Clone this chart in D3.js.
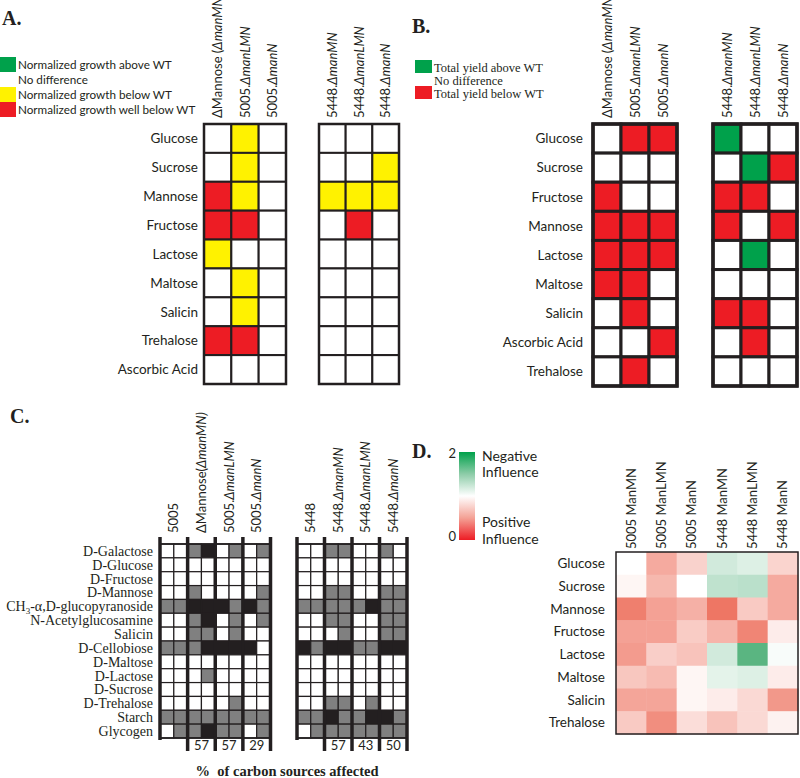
<!DOCTYPE html>
<html><head><meta charset="utf-8">
<script src="https://cdn.jsdelivr.net/npm/d3@7"></script>
<style>body{margin:0;background:#fff} svg{display:block}</style>
</head><body>
<svg id="c" width="800" height="778"></svg>
<script>
// ---------- DATA ----------
// Panel A: 0 no difference, 1 below WT, 2 well below WT, 3 above WT
const aRows = ["Glucose","Sucrose","Mannose","Fructose","Lactose","Maltose","Salicin","Trehalose","Ascorbic Acid"];
const aColsLeft = [["ΔMannose (","ΔmanMN)"],["5005.","ΔmanLMN"],["5005.","ΔmanN"]];
const aColsRight = [["5448.","ΔmanMN"],["5448.","ΔmanLMN"],["5448.","ΔmanN"]];
const aLegend = ["Normalized growth above WT","No difference","Normalized growth below WT","Normalized growth well below WT"];
const aLegendCodes = [3,0,1,2];
const aLeft = [[0,1,0],[0,1,0],[2,1,0],[2,2,0],[1,0,0],[0,1,0],[0,1,0],[2,2,0],[0,0,0]];
const aRight = [[0,0,0],[0,0,1],[1,1,1],[0,2,0],[0,0,0],[0,0,0],[0,0,0],[0,0,0],[0,0,0]];

// Panel B: 0 no difference, 1 below WT, 2 above WT
const bRows = ["Glucose","Sucrose","Fructose","Mannose","Lactose","Maltose","Salicin","Ascorbic Acid","Trehalose"];
const bLegend = ["Total yield above WT","No difference","Total yield below WT"];
const bLegendCodes = [2,0,1];
const bLeft = [[0,1,1],[0,0,0],[1,0,0],[1,1,1],[1,1,1],[1,1,0],[0,1,0],[0,0,1],[0,1,0]];
const bRight = [[2,0,0],[0,2,1],[1,1,0],[1,0,1],[0,2,0],[0,0,0],[1,1,0],[0,1,0],[0,0,0]];

// Panel C: 0 white, 1 grey, 2 black (two replicate columns per strain)
const cRows = ["D-Galactose","D-Glucose","D-Fructose","D-Mannose","CH3-α,D-glucopyranoside","N-Acetylglucosamine","Salicin","D-Cellobiose","D-Maltose","D-Lactose","D-Sucrose","D-Trehalose","Starch","Glycogen"];
const cColsLeft = [["5005",""],["ΔMannose(","ΔmanMN)"],["5005.","ΔmanLMN"],["5005.","ΔmanN"]];
const cColsRight = [["5448",""],["5448.","ΔmanMN"],["5448.","ΔmanLMN"],["5448.","ΔmanN"]];
const cPctLeft = ["","57","57","29"];
const cPctRight = ["","57","43","50"];
const cLeft = [
 [0,0,1,2,0,1,0,1],[0,0,0,0,0,0,0,0],[0,0,0,0,0,0,0,0],[0,0,1,0,0,0,0,1],
 [1,1,2,2,2,1,2,1],[0,0,1,2,0,1,0,1],[0,0,1,1,0,1,0,0],[1,1,1,2,2,2,2,0],
 [0,0,0,0,0,0,0,0],[0,0,0,1,0,0,0,0],[0,0,0,0,0,0,0,0],[0,0,0,0,0,1,0,0],
 [1,1,1,1,1,1,1,1],[0,1,1,2,1,1,0,1]];
const cRight = [
 [0,0,1,1,0,0,1,0],[0,0,0,0,0,0,0,0],[0,0,0,0,0,0,0,0],[0,0,1,1,0,0,1,1],
 [1,1,1,1,1,2,1,1],[0,0,1,1,0,0,1,1],[0,0,0,1,0,0,1,1],[2,1,2,2,1,1,2,2],
 [0,0,0,0,0,0,0,0],[0,0,0,0,0,0,0,0],[0,0,0,0,0,0,0,0],[0,0,1,1,0,1,0,0],
 [1,1,2,1,1,2,2,1],[0,1,1,1,1,1,1,1]];

// Panel D heatmap (0 positive influence .. 2 negative influence)
const dRows = ["Glucose","Sucrose","Mannose","Fructose","Lactose","Maltose","Salicin","Trehalose"];
const dCols = ["5005 ManMN","5005 ManLMN","5005 ManN","5448 ManMN","5448 ManLMN","5448 ManN"];
const dVals = [
 [1.00,0.55,0.76,1.20,1.15,0.77],
 [0.95,0.62,1.00,1.28,1.30,0.55],
 [0.32,0.50,0.58,0.27,0.72,0.55],
 [0.50,0.50,0.73,0.60,0.35,0.90],
 [0.47,0.74,0.68,1.20,1.72,1.03],
 [0.70,0.64,0.95,1.12,1.15,0.90],
 [0.52,0.52,0.95,0.90,0.80,0.45],
 [0.72,0.40,0.82,0.68,0.80,0.93]];
const dLegendTicks = [2,0];

// ---------- DRAW ----------
const svg = d3.select("#c");
const sans = "Lato, 'Open Sans', sans-serif";
const serif = "'Liberation Serif', 'DejaVu Serif', serif";
const ink = "#231f20";

function header(g, cx, y, parts, size){
  const t = g.append("text").attr("transform",`translate(${cx},${y}) rotate(-90)`)
    .attr("dy","0.35em").attr("font-family",sans).attr("font-size",size).attr("fill",ink);
  t.append("tspan").text(parts[0]);
  if(parts[1]) t.append("tspan").attr("font-style","italic").text(parts[1]);
}
function panelTitle(x,y,txt){
  svg.append("text").attr("x",x).attr("y",y).attr("font-family",serif).attr("font-weight","bold")
    .attr("font-size",20).attr("fill",ink).text(txt);
}
function grid(rows, cols, vals, xr, yr, colorOf, sw){
  const x = d3.scaleBand().domain(d3.range(cols)).range(xr);
  const y = d3.scaleBand().domain(d3.range(rows.length)).range(yr);
  const g = svg.append("g");
  vals.forEach((row,i)=>row.forEach((v,j)=>{
    g.append("rect").attr("x",x(j)).attr("y",y(i)).attr("width",x.bandwidth()).attr("height",y.bandwidth())
      .attr("fill",colorOf(v)).attr("stroke",ink).attr("stroke-width",sw);
  }));
  g.append("rect").attr("x",xr[0]).attr("y",yr[0]).attr("width",xr[1]-xr[0]).attr("height",yr[1]-yr[0])
    .attr("fill","none").attr("stroke",ink).attr("stroke-width",sw+0.5);
  return {x,y};
}

// ---- Panel A ----
panelTitle(2,25,"A.");
const aColor = v => ["#ffffff","#fff200","#ed1c24","#00a14b"][v];
aLegend.forEach((t,i)=>{
  svg.append("rect").attr("x",0).attr("y",57+i*15).attr("width",16).attr("height",15).attr("fill",aColor(aLegendCodes[i]));
  svg.append("text").attr("x",18).attr("y",64.5+i*15).attr("dy","0.35em").attr("font-family",sans)
    .attr("font-size",11.7).attr("fill",ink).text(t);
});
const aY = [124,384];
const gaL = grid(aRows,3,aLeft,[204,286],aY,aColor,2);
const gaR = grid(aRows,3,aRight,[319,399],aY,aColor,2);
aRows.forEach((r,i)=>svg.append("text").attr("x",198).attr("y",gaL.y(i)+gaL.y.bandwidth()/2).attr("dy","0.35em")
  .attr("text-anchor","end").attr("font-family",sans).attr("font-size",13.5).attr("fill",ink).text(r));
aColsLeft.forEach((c,j)=>header(svg,gaL.x(j)+gaL.x.bandwidth()/2,118,c,13));
aColsRight.forEach((c,j)=>header(svg,gaR.x(j)+gaR.x.bandwidth()/2,118,c,13));

// ---- Panel B ----
panelTitle(412,33,"B.");
const bColor = v => ["#ffffff","#ed1c24","#00a14b"][v];
bLegend.forEach((t,i)=>{
  svg.append("rect").attr("x",415).attr("y",60+i*13).attr("width",17).attr("height",13).attr("fill",bColor(bLegendCodes[i]));
  svg.append("text").attr("x",434).attr("y",72+i*12.8).attr("font-family",serif)
    .attr("font-size",12.5).attr("fill",ink).text(t);
});
const bY = [124,386];
const gbL = grid(bRows,3,bLeft,[593,677],bY,bColor,3);
const gbR = grid(bRows,3,bRight,[713,797],bY,bColor,3);
bRows.forEach((r,i)=>svg.append("text").attr("x",583).attr("y",gbL.y(i)+gbL.y.bandwidth()/2).attr("dy","0.35em")
  .attr("text-anchor","end").attr("font-family",sans).attr("font-size",13.5).attr("fill",ink).text(r));
aColsLeft.forEach((c,j)=>header(svg,gbL.x(j)+gbL.x.bandwidth()/2,118,c,13));
aColsRight.forEach((c,j)=>header(svg,gbR.x(j)+gbR.x.bandwidth()/2,118,c,13));

// ---- Panel C ----
panelTitle(10,423,"C.");
const cColor = v => ["#ffffff","#808080","#231f20"][v];
const cY = [544,738];
function cGroup(vals, xr, cols, pcts){
  const gg = grid(cRows,8,vals,xr,cY,cColor,1.2);
  const step = (xr[1]-xr[0])/4;
  for(let k=0;k<=4;k++){
    const xx = xr[0]+k*step;
    svg.append("line").attr("x1",xx).attr("x2",xx).attr("y1",537).attr("y2",k===0?740:751)
      .attr("stroke",ink).attr("stroke-width",3.5);
  }
  cols.forEach((c,k)=>header(svg,xr[0]+(k+0.5)*step,533,c,13));
  pcts.forEach((p,k)=>{ if(p) svg.append("text").attr("x",xr[0]+(k+0.5)*step).attr("y",750)
    .attr("text-anchor","middle").attr("font-family",sans).attr("font-size",13).attr("fill",ink).text(p); });
  return gg;
}
const gcL = cGroup(cLeft,[160,270.5],cColsLeft,cPctLeft);
cGroup(cRight,[297,407],cColsRight,cPctRight);
cRows.forEach((r,i)=>{
  const t = svg.append("text").attr("x",153).attr("y",gcL.y(i)+gcL.y.bandwidth()/2).attr("dy","0.35em")
    .attr("text-anchor","end").attr("font-family",serif).attr("font-size",14).attr("fill",ink);
  if(r.startsWith("CH3")){
    t.append("tspan").text("CH");
    t.append("tspan").attr("font-size",9).attr("dy","3").text("3");
    t.append("tspan").attr("dy","-3").text(r.slice(3));
  } else t.text(r);
});
svg.append("text").attr("x",287).attr("y",776).attr("text-anchor","middle").attr("font-family",serif)
  .attr("font-weight","bold").attr("font-size",14.5).attr("fill",ink).attr("xml:space","preserve")
  .text("%  of carbon sources affected");

// ---- Panel D ----
panelTitle(412,458,"D.");
const dColor = d3.scaleLinear().domain([0,1,2]).range(["#e8432a","#ffffff","#1a9850"]);
const defs = svg.append("defs");
const lg = defs.append("linearGradient").attr("id","dg").attr("x1",0).attr("x2",0).attr("y1",0).attr("y2",1);
[2,1.5,1,0.5,0].forEach((v,i)=>lg.append("stop").attr("offset",i/4).attr("stop-color",v===2?"#00a14b":v===0?"#ed1c24":dColor(v)));
svg.append("rect").attr("x",459).attr("y",452).attr("width",16).attr("height",88).attr("fill","url(#dg)");
dLegendTicks.forEach((v,i)=>svg.append("text").attr("x",456).attr("y",i===0?458:541).attr("text-anchor","end")
  .attr("font-family",sans).attr("font-size",13).attr("fill",ink).text(v));
[["Negative",461],["Influence",477],["Positive",527],["Influence",544]].forEach(d=>
  svg.append("text").attr("x",482).attr("y",d[1]).attr("font-family",sans).attr("font-size",14).attr("fill",ink).text(d[0]));
const dx = d3.scaleBand().domain(dCols).range([616,798]);
const dy = d3.scaleBand().domain(dRows).range([552,734]);
dRows.forEach((r,i)=>dCols.forEach((c,j)=>svg.append("rect").attr("x",dx(c)).attr("y",dy(r))
  .attr("width",dx.bandwidth()+0.5).attr("height",dy.bandwidth()+0.5).attr("fill",dColor(dVals[i][j]))));
svg.append("rect").attr("x",616).attr("y",552).attr("width",182).attr("height",182).attr("fill","none")
  .attr("stroke",ink).attr("stroke-width",1.5);
dRows.forEach(r=>svg.append("text").attr("x",605).attr("y",dy(r)+dy.bandwidth()/2).attr("dy","0.35em")
  .attr("text-anchor","end").attr("font-family",sans).attr("font-size",13.5).attr("fill",ink).text(r));
dCols.forEach(c=>header(svg,dx(c)+dx.bandwidth()/2,549,[c,""],13));
</script></body></html>
